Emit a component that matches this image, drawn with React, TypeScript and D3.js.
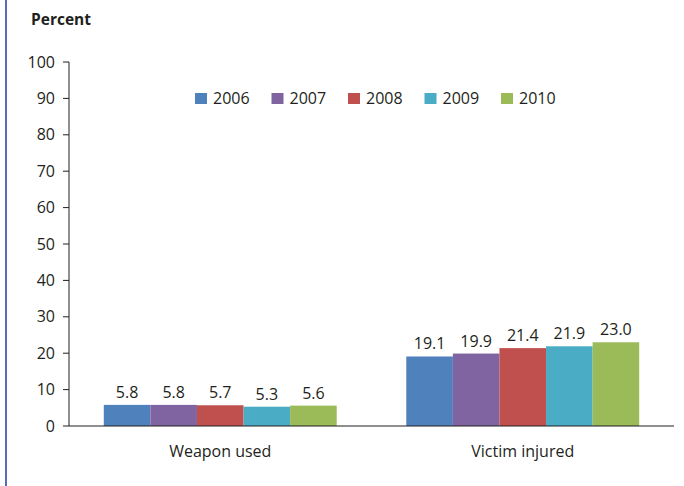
import { useEffect, useRef } from "react";
import * as d3 from "d3";

const categories = ["Weapon used", "Victim injured"];
const years = ["2006", "2007", "2008", "2009", "2010"];
const weaponUsed = [5.8, 5.8, 5.7, 5.3, 5.6];
const victimInjured = [19.1, 19.9, 21.4, 21.9, 23.0];
const yTicks = [0, 10, 20, 30, 40, 50, 60, 70, 80, 90, 100];
const colors = ["#4F81BD", "#8064A2", "#C0504D", "#4BACC6", "#9BBB59"];

const W = 684;
const H = 486;
const FONT = "'Open Sans', 'Liberation Sans', sans-serif";

export default function App() {
  const svgRef = useRef<SVGSVGElement>(null);

  useEffect(() => {
    if (!svgRef.current) return;
    const svg = d3.select(svgRef.current);
    svg.selectAll("*").remove();

    const left = 69;
    const right = 674;
    const top = 62;
    const bottom = 426;

    const series = [weaponUsed, victimInjured];

    const x0 = d3
      .scaleBand()
      .domain(categories)
      .range([left, right])
      .paddingInner(0.23)
      .paddingOuter(0.115);

    const x1 = d3.scaleBand().domain(years).range([0, x0.bandwidth()]);

    const y = d3.scaleLinear().domain([0, 100]).range([bottom, top]);

    // left page rule
    svg
      .append("rect")
      .attr("x", 5)
      .attr("y", 0)
      .attr("width", 2)
      .attr("height", H)
      .attr("fill", "#5B6CB6");

    svg
      .append("text")
      .attr("x", 31)
      .attr("y", 25)
      .attr("font-family", FONT)
      .attr("font-size", 15.5)
      .attr("font-weight", "bold")
      .attr("fill", "#231F20")
      .text("Percent");

    // y axis
    const yAxis = svg.append("g");
    yAxis
      .append("line")
      .attr("x1", left)
      .attr("x2", left)
      .attr("y1", y(100))
      .attr("y2", bottom)
      .attr("stroke", "#231F20")
      .attr("stroke-width", 1);
    yTicks.forEach((t) => {
      yAxis
        .append("line")
        .attr("x1", left - 6)
        .attr("x2", left)
        .attr("y1", y(t))
        .attr("y2", y(t))
        .attr("stroke", "#231F20");
      yAxis
        .append("text")
        .attr("x", 55)
        .attr("y", y(t))
        .attr("dy", "0.35em")
        .attr("text-anchor", "end")
        .attr("font-family", FONT)
        .attr("font-size", 16)
        .attr("fill", "#231F20")
        .text(t);
    });

    // bars
    categories.forEach((c, ci) => {
      const g = svg.append("g").attr("transform", `translate(${x0(c)},0)`);
      years.forEach((yr, i) => {
        const v = series[ci][i];
        g.append("rect")
          .attr("x", x1(yr)!)
          .attr("y", y(v))
          .attr("width", x1.bandwidth())
          .attr("height", bottom - y(v))
          .attr("fill", colors[i]);
        g.append("text")
          .attr("x", x1(yr)! + x1.bandwidth() / 2)
          .attr("y", y(v) - 7)
          .attr("text-anchor", "middle")
          .attr("font-family", FONT)
          .attr("font-size", 16)
          .attr("fill", "#231F20")
          .text(v.toFixed(1));
      });
      svg
        .append("text")
        .attr("x", x0(c)! + x0.bandwidth() / 2)
        .attr("y", 457)
        .attr("text-anchor", "middle")
        .attr("font-family", FONT)
        .attr("font-size", 16)
        .attr("fill", "#231F20")
        .text(c);
    });

    // x axis
    svg
      .append("line")
      .attr("x1", left)
      .attr("x2", right)
      .attr("y1", bottom)
      .attr("y2", bottom)
      .attr("stroke", "#231F20")
      .attr("stroke-width", 1.2);

    // legend
    const legend = svg.append("g").attr("transform", "translate(195,93)");
    years.forEach((yr, i) => {
      const lg = legend.append("g").attr("transform", `translate(${i * 76.5},0)`);
      lg.append("rect").attr("width", 12).attr("height", 11).attr("fill", colors[i]);
      lg.append("text")
        .attr("x", 18)
        .attr("y", 11)
        .attr("font-family", FONT)
        .attr("font-size", 16)
        .attr("fill", "#231F20")
        .text(yr);
    });
  }, []);

  return (
    <div style={{ position: "absolute", left: 0, top: 0, background: "#fff" }}>
      <svg ref={svgRef} width={W} height={H} style={{ display: "block" }} />
    </div>
  );
}
